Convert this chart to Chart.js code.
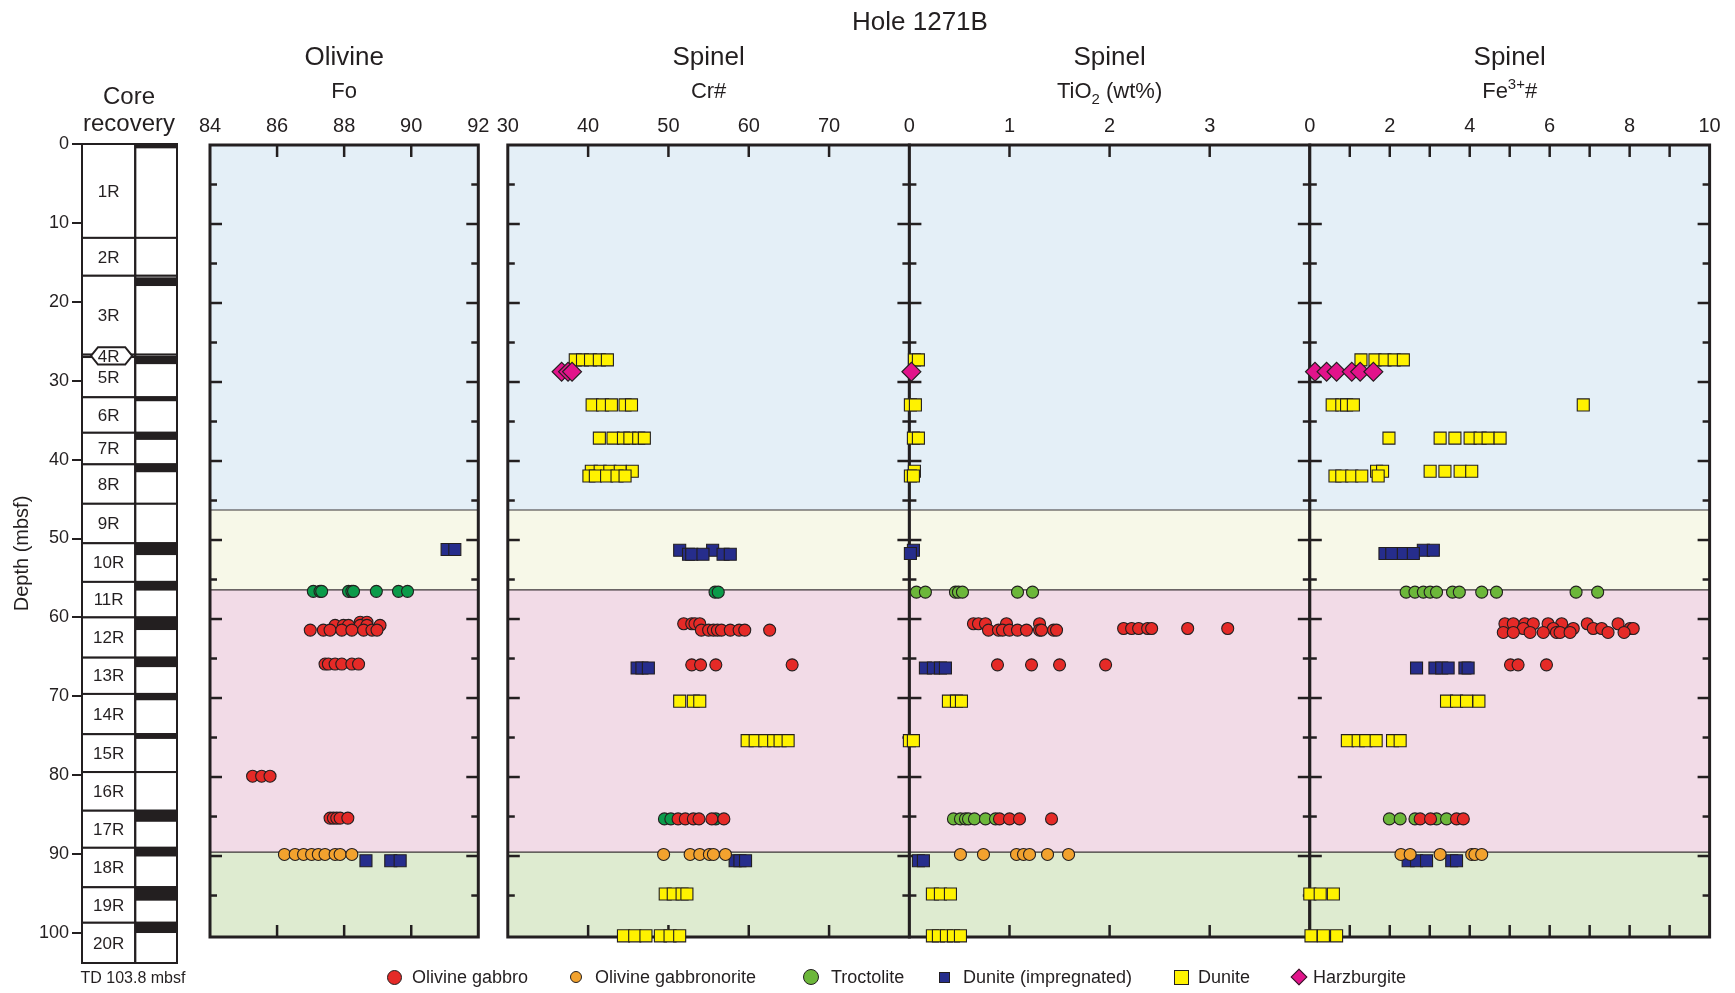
<!DOCTYPE html>
<html>
<head>
<meta charset="utf-8">
<title>Hole 1271B</title>
<script src="https://cdn.jsdelivr.net/npm/chart.js@4.4.1/dist/chart.umd.min.js"></script>
<style>
  html, body { margin: 0; padding: 0; background: #fff; }
  #page { position: relative; width: 1735px; height: 993px; overflow: hidden; font-family: 'Liberation Sans', Arial, Helvetica, sans-serif; color: #231f20; }
  #page canvas { position: absolute; left: 0; top: 0; }
  .hole { position: absolute; left: 720px; top: 8px; width: 400px; text-align: center; font-size: 26px; line-height: 26px; }
  .lg-mark { position: absolute; box-sizing: border-box; border: 1px solid #231f20; }
  .lg-text { position: absolute; top: 968px; font-size: 18px; line-height: 18px; white-space: nowrap; }
</style>
</head>
<body>
<div id="page">
  <canvas id="core" width="1735" height="993"></canvas>
  <canvas id="fo" width="1735" height="993"></canvas>
  <canvas id="cr" width="1735" height="993"></canvas>
  <canvas id="ti" width="1735" height="993"></canvas>
  <canvas id="fe" width="1735" height="993"></canvas>
  <div class="hole">Hole 1271B</div>
  <div id="legend"></div>
</div>
<script>
const FONT = "'Liberation Sans', Arial, Helvetica, sans-serif";
const INK = '#231f20';
Chart.defaults.font.family = FONT;
Chart.defaults.color = INK;

// ---- Core recovery (mbsf) ----
const coreNames  = ['1R','2R','3R','4R','5R','6R','7R','8R','9R','10R','11R','12R','13R','14R','15R','16R','17R','18R','19R','20R'];
const coreTop    = [0, 11.9, 16.7, 26.7, 27.0, 32.1, 36.6, 40.6, 45.6, 50.6, 55.5, 60.0, 65.1, 69.7, 74.8, 79.6, 84.5, 89.2, 94.2, 98.7];
const coreBottom = [11.9, 16.7, 26.7, 27.0, 32.1, 36.6, 40.6, 45.6, 50.6, 55.5, 60.0, 65.1, 69.7, 74.8, 79.6, 84.5, 89.2, 94.2, 98.7, 103.8];
const recTop     = [0, 16.9, 27.0, 32.1, 36.5, 40.6, 50.6, 55.5, 60.0, 65.1, 69.7, 74.7, 84.5, 89.2, 94.1, 98.7];
const recBottom  = [0.55, 18.0, 27.9, 32.6, 37.5, 41.6, 52.1, 56.6, 61.6, 66.3, 70.5, 75.4, 85.9, 90.3, 95.9, 100.0];
const totalDepth = 103.8;
const depthTicks = [0, 10, 20, 30, 40, 50, 60, 70, 80, 90, 100];
const panelDepthTicks = [5, 10, 15, 20, 25, 30, 35, 40, 45, 50, 55, 60, 65, 70, 75, 80, 85, 90, 95];

// ---- Lithologic units (depth intervals, mbsf) ----
const unitTop    = [0, 46.2, 56.3, 89.5];
const unitBottom = [46.2, 56.3, 89.5, 100.25];
const unitColor  = ['#e4eff7', '#f7f8e8', '#f2dbe7', '#deebd0'];

// ---- Axis ticks ----
const foTicks = [84, 86, 88, 90, 92];          const foLabels = [84, 86, 88, 90, 92];
const crTicks = [30, 40, 50, 60, 70, 80];      const crLabels = [30, 40, 50, 60, 70];
const tiTicks = [0, 1, 2, 3, 4];               const tiLabels = [0, 1, 2, 3];
const feTicks = [0, 1, 2, 3, 4, 5, 6, 7, 8, 9, 10]; const feLabels = [0, 2, 4, 6, 8, 10];

// ---- Analyses: [depth (mbsf), [values]] ----
// Olivine Fo
const gabbroFo = [[60.4, [88.48, 88.68]], [60.8, [87.73, 87.98, 88.13, 88.48, 88.68, 89.07]],
  [61.4, [86.99, 87.38, 87.58, 87.93, 88.23, 88.58, 88.83, 88.98]], [65.7, [87.43, 87.53, 87.73, 87.93, 88.23, 88.43]],
  [79.9, [85.27, 85.54, 85.79]], [85.2, [87.58, 87.68, 87.78, 87.88, 88.11]]];
const noriteFo = [[89.8, [86.22, 86.54, 86.79, 87.03, 87.23, 87.43, 87.73, 87.88, 88.23]]];
const troctFo  = [[56.5, [87.08, 87.28, 87.33, 88.13, 88.23, 88.28, 88.96, 89.62, 89.89]]];
const impDunFo = [[51.2, [91.07, 91.3]], [90.6, [88.65, 89.39, 89.67]]];

// Spinel Cr#
const gabbroCr = [[60.6, [51.9, 52.9, 53.3, 53.9]], [61.4, [54.1, 55.0, 55.6, 56.1, 56.6, 57.7, 58.8, 59.5, 62.6]],
  [65.8, [52.9, 54.0, 55.9, 65.4]], [85.3, [51.2, 52.1, 53.1, 53.8, 55.4, 56.9]]];
const noriteCr = [[89.8, [49.4, 52.7, 53.9, 55.1, 55.6, 57.1]]];
const troctCr  = [[56.6, [55.8, 56.2]], [85.3, [49.5, 50.3, 55.9]]];
const impDunCr = [[51.3, [51.4, 55.5]], [51.8, [52.5, 52.9, 54.3, 56.8, 57.7]], [66.2, [46.1, 46.7, 47.5]], [90.6, [58.3, 58.9, 59.6]]];
const duniteCr = [[27.2, [38.4, 39.3, 40.3, 41.4, 42.4]], [32.9, [40.5, 41.8, 42.9, 44.6, 45.4]],
  [37.1, [41.4, 43.1, 44.4, 45.2, 46.3, 47.0]], [41.3, [40.4, 41.5, 42.7, 44.0, 45.5]], [41.9, [40.1, 40.9, 42.3, 43.6, 44.6]],
  [70.4, [51.4, 53.1, 53.9]], [75.4, [59.8, 60.8, 62.0, 63.1, 63.9, 64.9]], [94.8, [49.6, 50.6, 51.7, 52.3]],
  [100.1, [44.4, 45.8, 47.2, 49.0, 50.2, 51.4]]];
const harzCr   = [[28.7, [36.7, 37.5, 38.0]]];

// Spinel TiO2 (wt%)
const gabbroTi = [[60.6, [0.64, 0.69, 0.76, 0.97, 1.30]], [61.2, [2.14, 2.22, 2.29, 2.38, 2.42, 2.78, 3.18]],
  [61.4, [0.79, 0.89, 0.93, 1.00, 1.08, 1.17, 1.30, 1.32, 1.44, 1.47]], [65.8, [0.88, 1.22, 1.50, 1.96]],
  [85.3, [0.90, 1.00, 1.10, 1.42]]];
const noriteTi = [[89.8, [0.51, 0.74, 1.07, 1.14, 1.20, 1.38, 1.59]]];
const troctTi  = [[56.6, [0.07, 0.16, 0.46, 0.49, 0.53, 1.08, 1.23]], [85.3, [0.44, 0.51, 0.56, 0.59, 0.65, 0.76, 0.86]]];
const impDunTi = [[51.3, [0.04]], [51.7, [0.01]], [66.2, [0.16, 0.24, 0.31, 0.36]], [90.6, [0.09, 0.14]]];
const duniteTi = [[27.2, [0.05, 0.09]], [32.9, [0.01, 0.06]], [37.1, [0.04, 0.09]], [41.3, [0.05]], [41.9, [0.01, 0.04]],
  [70.4, [0.39, 0.47, 0.52]], [75.4, [0.0, 0.04]], [94.8, [0.23, 0.31, 0.41]], [100.1, [0.23, 0.29, 0.37, 0.44, 0.51]]];
const harzTi   = [[28.7, [0.02]]];

// Spinel Fe3+#
const gabbroFe = [[60.6, [4.88, 5.09, 5.38, 5.59, 5.96, 6.30, 6.94, 7.71]], [61.2, [5.34, 6.09, 6.59, 7.09, 7.30, 8.01, 8.09]],
  [61.7, [4.84, 5.09, 5.51, 5.84, 6.17, 6.26, 6.51, 7.46, 7.86]], [65.8, [5.02, 5.21, 5.92]], [85.3, [2.76, 3.02, 3.67, 3.84]]];
const noriteFe = [[89.8, [2.28, 2.51, 3.26, 4.05, 4.13, 4.30]]];
const troctFe  = [[56.6, [2.41, 2.63, 2.84, 3.01, 3.17, 3.57, 3.74, 4.30, 4.67, 6.66, 7.20]], [85.3, [1.99, 2.26, 2.63, 3.17, 3.42]]];
const impDunFe = [[51.3, [2.84, 3.09]], [51.7, [1.88, 2.05, 2.34, 2.59]], [66.2, [2.67, 3.13, 3.30, 3.46, 3.88, 3.96]],
  [90.6, [2.46, 2.67, 2.92, 3.55, 3.67]]];
const duniteFe = [[27.2, [1.28, 1.63, 1.88, 2.11, 2.34]], [32.9, [0.56, 0.80, 0.92, 1.09, 6.84]],
  [37.1, [1.98, 3.26, 3.63, 4.01, 4.26, 4.46, 4.76]], [41.3, [1.67, 1.82, 3.01, 3.38, 3.76, 4.05]], [41.9, [0.63, 0.80, 1.05, 1.30, 1.71]],
  [70.4, [3.42, 3.67, 3.92, 4.23]], [75.4, [0.94, 1.21, 1.40, 1.66, 2.07, 2.26]], [94.8, [0.0, 0.26, 0.59]], [100.1, [0.03, 0.34, 0.67]]];
const harzFe   = [[28.7, [0.13, 0.42, 0.67, 1.05, 1.26, 1.59]]];

// ---- Symbol styles per lithology (lower order = drawn on top) ----
const STYLE = {
  gabbro: { label: 'Olivine gabbro',       shape: 'circle',  r: 6,   fill: '#e52a27', order: 2 },
  norite: { label: 'Olivine gabbronorite', shape: 'circle',  r: 6,   fill: '#f2a22e', order: 1 },
  troct:  { label: 'Troctolite',           shape: 'circle',  r: 6,   fill: '#6cb73a', order: 3 },
  impDun: { label: 'Dunite (impregnated)', shape: 'rect',    r: 8.5, fill: '#262d8c', order: 4 },
  dunite: { label: 'Dunite',               shape: 'rect',    r: 8.5, fill: '#fff200', order: 5 },
  harz:   { label: 'Harzburgite',          shape: 'rectRot', r: 9.5, fill: '#e2138b', order: 0 }
};
const TROCT_DARK = '#0b9b4a';

const W = 1735, H = 993;
const PANEL_TOP = 145, PANEL_BOTTOM = 937, DEPTH_MAX = 100.25;

function line(ctx, x0, y0, x1, y1) { ctx.beginPath(); ctx.moveTo(x0, y0); ctx.lineTo(x1, y1); ctx.stroke(); }

// Draws a run of text pieces (with sub/superscripts) centred on cx at baseline y
function richText(ctx, parts, cx, y, size) {
  const fontOf = p => `${(p.sub || p.sup) ? Math.round(size * 0.68) : size}px ${FONT}`;
  let total = 0;
  parts.forEach(p => { ctx.font = fontOf(p); total += ctx.measureText(p.t).width; });
  let x = cx - total / 2;
  ctx.textAlign = 'left'; ctx.textBaseline = 'alphabetic';
  parts.forEach(p => {
    ctx.font = fontOf(p);
    const dy = p.sub ? size * 0.28 : p.sup ? -size * 0.4 : 0;
    ctx.fillText(p.t, x, y + dy);
    x += ctx.measureText(p.t).width;
  });
}

// Background units, inward tick marks, frame and panel headings
const panelDecor = {
  id: 'panelDecor',
  beforeDatasetsDraw(chart) {
    const { ctx, chartArea: a, scales: { x, y } } = chart;
    ctx.save();
    unitTop.forEach((t, i) => {
      const y0 = y.getPixelForValue(t), y1 = y.getPixelForValue(unitBottom[i]);
      ctx.fillStyle = unitColor[i];
      ctx.fillRect(a.left, y0, a.right - a.left, y1 - y0);
    });
    ctx.strokeStyle = '#3b3536'; ctx.lineWidth = 1.2;
    unitTop.slice(1).forEach(t => { const py = y.getPixelForValue(t); line(ctx, a.left, py, a.right, py); });
    ctx.strokeStyle = INK; ctx.lineWidth = 2.5; ctx.lineCap = 'butt';
    x.ticks.forEach(t => {
      if (t.value <= x.min || t.value >= x.max) return;
      const px = x.getPixelForValue(t.value);
      line(ctx, px, a.top, px, a.top + 12);
      line(ctx, px, a.bottom, px, a.bottom - 12);
    });
    panelDepthTicks.forEach(d => {
      const py = y.getPixelForValue(d), len = d % 10 === 0 ? 12 : 7;
      line(ctx, a.left, py, a.left + len, py);
      line(ctx, a.right, py, a.right - len, py);
    });
    ctx.lineWidth = 3;
    ctx.strokeRect(a.left, a.top, a.right - a.left, a.bottom - a.top);
    ctx.restore();
  },
  afterDraw(chart, _args, opts) {
    const { ctx, chartArea: a } = chart;
    const cx = (a.left + a.right) / 2;
    ctx.save();
    ctx.fillStyle = INK;
    richText(ctx, [{ t: opts.title }], cx, 65, 26);
    richText(ctx, opts.sub, cx, 98, 22);
    ctx.restore();
  }
};

function series(rows, key, color) {
  const s = STYLE[key];
  return {
    label: s.label,
    data: rows.flatMap(([d, vals]) => vals.map(v => ({ x: v, y: d }))),
    order: s.order,
    pointStyle: s.shape,
    pointRadius: s.r,
    pointHoverRadius: s.r,
    pointBackgroundColor: color || s.fill,
    pointBorderColor: INK,
    pointBorderWidth: 1.1,
    showLine: false,
    clip: false
  };
}

function panel(id, left, right, min, max, ticks, labels, title, sub, datasets) {
  return new Chart(document.getElementById(id), {
    type: 'scatter',
    data: { datasets },
    options: {
      responsive: false, animation: false, events: [],
      layout: { padding: { left, right: W - right, top: 0, bottom: H - PANEL_BOTTOM } },
      plugins: { legend: { display: false }, tooltip: { enabled: false }, panelDecor: { title, sub } },
      scales: {
        x: {
          type: 'linear', position: 'top', min, max,
          afterFit: s => { s.height = PANEL_TOP; },
          afterBuildTicks: s => { s.ticks = ticks.map(v => ({ value: v })); },
          ticks: { autoSkip: false, maxRotation: 0, minRotation: 0, padding: 7, color: INK,
                   font: { size: 20 }, callback: v => labels.includes(v) ? String(v) : '' },
          grid: { display: false, drawTicks: false },
          border: { display: false }
        },
        y: { type: 'linear', display: false, reverse: true, min: 0, max: DEPTH_MAX }
      }
    },
    plugins: [panelDecor]
  });
}

panel('fo', 210, 478.3, 84, 92, foTicks, foLabels, 'Olivine', [{ t: 'Fo' }], [
  series(gabbroFo, 'gabbro'), series(noriteFo, 'norite'), series(troctFo, 'troct', TROCT_DARK), series(impDunFo, 'impDun')
]);
panel('cr', 507.8, 909.4, 30, 80, crTicks, crLabels, 'Spinel', [{ t: 'Cr#' }], [
  series(gabbroCr, 'gabbro'), series(noriteCr, 'norite'), series(troctCr, 'troct', TROCT_DARK),
  series(impDunCr, 'impDun'), series(duniteCr, 'dunite'), series(harzCr, 'harz')
]);
panel('ti', 909.4, 1309.8, 0, 4, tiTicks, tiLabels, 'Spinel', [{ t: 'TiO' }, { t: '2', sub: true }, { t: ' (wt%)' }], [
  series(gabbroTi, 'gabbro'), series(noriteTi, 'norite'), series(troctTi, 'troct'),
  series(impDunTi, 'impDun'), series(duniteTi, 'dunite'), series(harzTi, 'harz')
]);
panel('fe', 1309.8, 1709.6, 0, 10, feTicks, feLabels, 'Spinel', [{ t: 'Fe' }, { t: '3+', sup: true }, { t: '#' }], [
  series(gabbroFe, 'gabbro'), series(noriteFe, 'norite'), series(troctFe, 'troct'),
  series(impDunFe, 'impDun'), series(duniteFe, 'dunite'), series(harzFe, 'harz')
]);

// Core recovery column: core boxes, recovered intervals and core numbers
const CORE_SPLIT = 0.56;
const coreColumn = {
  id: 'coreColumn',
  afterDraw(chart) {
    const { ctx, chartArea: a, scales: { x, y } } = chart;
    const xl = a.left, xm = x.getPixelForValue(CORE_SPLIT), xr = a.right;
    ctx.save();
    ctx.strokeStyle = INK; ctx.lineWidth = 2; ctx.fillStyle = '#fff';
    coreTop.forEach((t, i) => {
      const y0 = y.getPixelForValue(t), y1 = y.getPixelForValue(coreBottom[i]);
      ctx.fillStyle = '#fff';
      ctx.fillRect(xl, y0, xr - xl, y1 - y0);
      ctx.strokeRect(xl, y0, xm - xl, y1 - y0);
      ctx.strokeRect(xm, y0, xr - xm, y1 - y0);
    });
    ctx.fillStyle = INK;
    recTop.forEach((t, i) => {
      const y0 = y.getPixelForValue(t), y1 = y.getPixelForValue(recBottom[i]);
      ctx.fillRect(xm, y0, xr - xm, y1 - y0);
    });
    ctx.font = `17px ${FONT}`; ctx.textAlign = 'center'; ctx.textBaseline = 'middle';
    const cx = (xl + xm) / 2;
    coreTop.forEach((t, i) => {
      const ym = (y.getPixelForValue(t) + y.getPixelForValue(coreBottom[i])) / 2;
      if (coreBottom[i] - t < 1) {
        // short core: number set in a hexagonal tag
        const h = 8.7;
        ctx.beginPath();
        ctx.moveTo(xl + 9, ym); ctx.lineTo(xl + 16, ym - h); ctx.lineTo(xm - 10, ym - h);
        ctx.lineTo(xm - 3, ym); ctx.lineTo(xm - 10, ym + h); ctx.lineTo(xl + 16, ym + h); ctx.closePath();
        ctx.fillStyle = '#fff'; ctx.fill(); ctx.stroke();
        ctx.fillStyle = INK;
      }
      ctx.fillText(coreNames[i], cx, ym + 1);
    });
    ctx.textBaseline = 'alphabetic';
    ctx.font = `24px ${FONT}`;
    ctx.fillText('Core', 129, 104);
    ctx.fillText('recovery', 129, 131);
    ctx.font = `16px ${FONT}`;
    ctx.fillText('TD ' + totalDepth + ' mbsf', 133, 983);
    ctx.restore();
  }
};

new Chart(document.getElementById('core'), {
  type: 'scatter',
  data: { datasets: [] },
  options: {
    responsive: false, animation: false, events: [],
    layout: { padding: { left: 0, right: W - 177, top: 144, bottom: H - 963 } },
    plugins: { legend: { display: false }, tooltip: { enabled: false } },
    scales: {
      x: { type: 'linear', display: false, min: 0, max: 1 },
      y: {
        type: 'linear', position: 'left', reverse: true, min: 0, max: totalDepth,
        afterFit: s => { s.width = 82; },
        afterBuildTicks: s => { s.ticks = depthTicks.map(v => ({ value: v })); },
        ticks: { padding: 3, color: INK, font: { size: 18 } },
        grid: { drawOnChartArea: false, drawTicks: true, tickLength: 10, color: INK, lineWidth: 2 },
        border: { display: false },
        title: { display: true, text: 'Depth (mbsf)', color: INK, font: { size: 20 }, padding: { top: 10, bottom: 0 } }
      }
    }
  },
  plugins: [coreColumn]
});

// Legend
const legendItems = [
  { key: 'gabbro', mx: 394,  tx: 412,  size: 15 },
  { key: 'norite', mx: 576,  tx: 595,  size: 12 },
  { key: 'troct',  mx: 811,  tx: 831,  size: 16 },
  { key: 'impDun', mx: 944,  tx: 963,  size: 11 },
  { key: 'dunite', mx: 1181, tx: 1198, size: 15 },
  { key: 'harz',   mx: 1299, tx: 1313, size: 12 }
];
const legend = document.getElementById('legend');
legendItems.forEach(it => {
  const s = STYLE[it.key];
  const m = document.createElement('div');
  m.className = 'lg-mark';
  m.style.width = m.style.height = it.size + 'px';
  m.style.left = (it.mx - it.size / 2) + 'px';
  m.style.top = (977 - it.size / 2) + 'px';
  m.style.background = s.fill;
  if (s.shape === 'circle') m.style.borderRadius = '50%';
  if (s.shape === 'rectRot') m.style.transform = 'rotate(45deg)';
  legend.appendChild(m);
  const t = document.createElement('div');
  t.className = 'lg-text';
  t.style.left = it.tx + 'px';
  t.textContent = s.label;
  legend.appendChild(t);
});
</script>
</body>
</html>
